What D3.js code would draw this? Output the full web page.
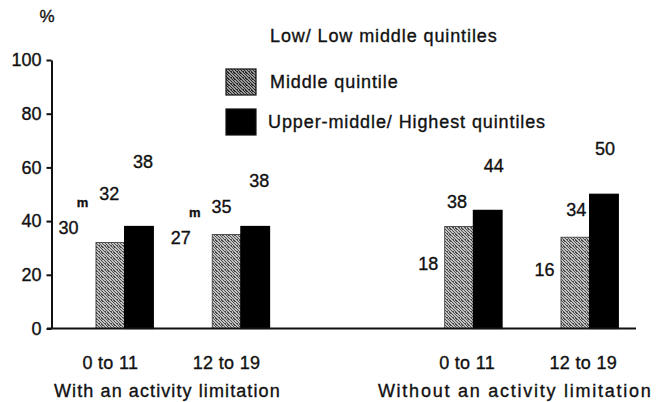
<!DOCTYPE html>
<html><head><meta charset="utf-8">
<script src="https://cdn.jsdelivr.net/npm/d3@7"></script>
<style>
body{margin:0;background:#fff;}
text{font-family:"Liberation Sans",Arial,Helvetica,sans-serif;fill:#111;stroke:#111;stroke-width:0.35px;}
</style></head>
<body><svg id="chart" width="660" height="402"></svg>
<script>
// ---- data ----
const panels = ["With an activity limitation", "Without an activity limitation"];
const ageGroups = ["0 to 11", "12 to 19"];
const series = ["Low/ Low middle quintiles", "Middle quintile", "Upper-middle/ Highest quintiles"];
const lowValues = [30, 27, 18, 16];
const midValues = [32, 35, 38, 34];
const highValues = [38, 38, 44, 50];
const lowFlags = ["m", "m", "", ""];
const yTicks = [0, 20, 40, 60, 80, 100];

// ---- layout (label nudges, legend rows) ----
const labelNudge = [
  [[-13,-20],[-1,-49],[4,-65]],
  [[-17,-18],[-5,-28],[4,-46]],
  [[-2,-16],[-2,-25],[6,-45]],
  [[-2,-16],[1,-28],[1,-46]]
];
const legendRowY = [36, 82, 122];
const panelSpacing = [1.1, 1.75];

const svg = d3.select("#chart");
const defs = svg.append("defs");

function stipple(id, light, dark, size, dots) {
  const p = defs.append("pattern").attr("id", id).attr("width", size).attr("height", size)
    .attr("patternUnits", "userSpaceOnUse");
  p.append("rect").attr("width", size).attr("height", size).attr("fill", light);
  dots.forEach(([a, b]) => p.append("rect").attr("x", a).attr("y", b)
    .attr("width", 1).attr("height", 1).attr("fill", dark));
}
const dots6 = [[0,0],[3,0],[5,0],[1,1],[4,1],[2,2],[5,2],[0,3],[3,3],[1,4],[4,4],[2,5],[5,5],[0,1],[3,5]];
stipple("stip", "#c2c2c2", "#4e4e4e", 6, dots6);
stipple("stipDark", "#9a9a9a", "#2a2a2a", 6, dots6);

const fills = ["#ffffff", "url(#stip)", "#000000"];
const valuesBySeries = [lowValues, midValues, highValues];

const y = d3.scaleLinear().domain([0, 100]).range([328.5, 60]);
const slot = d3.scaleLinear().domain([0, 4]).range([67.3, 532.3]);
const inner = d3.scaleBand().domain(series).range([0, 86]);

const groups = [];
panels.forEach((p, pi) => ageGroups.forEach((a, ai) => {
  const gi = pi * 2 + ai;
  groups.push({panel: p, pi, age: a, gi, slot: pi * 3 + ai});
}));

// y axis
const yAxis = d3.axisLeft(y).tickValues(yTicks).tickSize(5).tickSizeOuter(0).tickPadding(5);
const ya = svg.append("g").attr("transform","translate(51.5,0)").call(yAxis);
ya.select(".domain").attr("stroke","#111").attr("stroke-width",2);
ya.selectAll(".tick line").attr("stroke","#111").attr("stroke-width",2);
ya.selectAll(".tick text").style("font-size","18px").style("font-family","Liberation Sans, Arial, sans-serif")
  .attr("fill","#111");

svg.append("text").attr("x",47).attr("y",16).attr("dy","0.35em").attr("text-anchor","middle")
  .style("font-size","17px").text("%");

// bars
const g = svg.append("g");
groups.forEach(grp => {
  series.forEach((s, si) => {
    const v = valuesBySeries[si][grp.gi];
    const x0 = slot(grp.slot) + inner(s);
    g.append("rect")
      .attr("x", x0).attr("y", y(v))
      .attr("width", inner.bandwidth()).attr("height", y(0) - y(v))
      .attr("fill", fills[si])
      .attr("stroke", si === 0 ? "none" : (si === 1 ? "#333" : "#000"))
      .attr("stroke-width", si === 1 ? 0.8 : 1.2);
  });
});

// x axis baseline
svg.append("line").attr("x1",47).attr("x2",636).attr("y1",y(0)).attr("y2",y(0))
  .attr("stroke","#111").attr("stroke-width",2);

// value labels
groups.forEach(grp => {
  series.forEach((s, si) => {
    const v = valuesBySeries[si][grp.gi];
    const cx = slot(grp.slot) + inner(s) + inner.bandwidth() / 2;
    const [dx, dy] = labelNudge[grp.gi][si];
    svg.append("text").attr("x", cx + dx).attr("y", y(v) + dy).attr("dy","0.35em")
      .attr("text-anchor","middle").style("font-size","18px").text(v);
    if (si === 0 && lowFlags[grp.gi]) {
      svg.append("text").attr("x", cx + dx + 14).attr("y", y(v) + dy - 26).attr("dy","0.35em")
        .attr("text-anchor","middle").style("font-size","13px").style("font-weight","bold")
        .text(lowFlags[grp.gi]);
    }
  });
});

// category labels
groups.forEach(grp => {
  const cx = slot(grp.slot) + 43 + grp.pi * 8;
  svg.append("text").attr("x", cx).attr("y", 363).attr("dy","0.35em")
    .attr("text-anchor","middle").style("font-size","18px").style("letter-spacing","0.3px").text(grp.age);
});
panels.forEach((p, pi) => {
  const cx = (slot(pi * 3) + slot(pi * 3 + 1) + 86) / 2 - 1 - pi;
  svg.append("text").attr("x", cx).attr("y", 391).attr("dy","0.35em")
    .attr("text-anchor","middle").style("font-size","18px").style("letter-spacing", panelSpacing[pi] + "px").text(p);
});

// legend
series.forEach((s, si) => {
  const ly = legendRowY[si];
  if (si > 0) {
    svg.append("rect").attr("x",226).attr("y",ly - 13).attr("width",30).attr("height",26)
      .attr("fill", si === 1 ? "url(#stipDark)" : "#000")
      .attr("stroke", "#111").attr("stroke-width",1.2);
  }
  svg.append("text").attr("x", si === 2 ? 268 : 270).attr("y", ly).attr("dy","0.35em")
    .style("font-size","18px").style("letter-spacing","0.9px").text(s);
});
</script></body></html>
